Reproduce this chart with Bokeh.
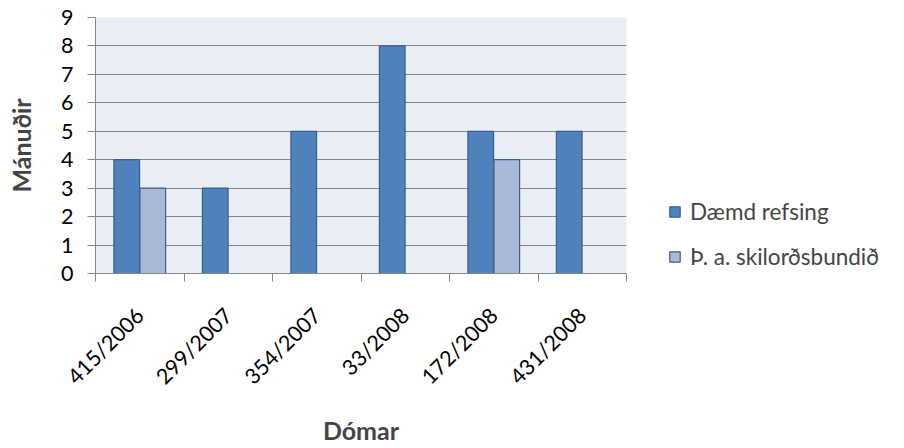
import math
import numpy as np
from bokeh.plotting import figure
from bokeh.models import (ColumnDataSource, FixedTicker, Legend, LegendItem,
                          Range1d)
from bokeh.embed import file_html
from bokeh.resources import INLINE

# Court cases and sentence lengths (months)
cases = ["415/2006", "299/2007", "354/2007", "33/2008", "172/2008", "431/2008"]
sentence = [4, 3, 5, 8, 5, 5]
suspended = [3, None, None, None, 4, None]

series_names = ["Dæmd refsing", "Þ. a. skilorðsbundið"]
fill_colors = ["#4F81BD", "#AAB9D8"]
line_colors = ["#3A5F8E", "#3A5F8E"]
y_ticks = list(range(0, 10))

FONT = "Lato"
idx = np.arange(len(cases), dtype=float)
centers = idx + 0.5
bounds = np.arange(len(cases) + 1, dtype=float)

p = figure(frame_width=531, frame_height=256, output_backend="svg", toolbar_location=None,
           x_range=Range1d(0, len(cases)), y_range=Range1d(0, 9),
           min_border_left=95, min_border_right=278, min_border_top=17,
           min_border_bottom=175)
p.background_fill_color = "#E9EDF4"
p.border_fill_color = "white"
p.outline_line_color = None

bar_w = 0.29
offsets = [-0.147, 0.147]
renderers = []
for vals, off, fc, lc in zip([sentence, suspended], offsets, fill_colors, line_colors):
    top = np.array([np.nan if v is None else v for v in vals], dtype=float)
    src = ColumnDataSource(dict(x=centers + off, top=top))
    r = p.vbar(x="x", top="top", bottom=0, width=bar_w, source=src,
               fill_color=fc, line_color=lc, line_width=1.2)
    renderers.append(r)

# x axis: labels at category centres, ticks on the category boundaries
xax = p.xaxis[0]
xax.ticker = FixedTicker(ticks=list(centers), minor_ticks=list(bounds))
xax.major_label_overrides = {float(c): name for c, name in zip(centers, cases)}
xax.major_label_orientation = math.pi / 4
xax.major_tick_line_color = None
xax.minor_tick_line_color = "#868686"
xax.minor_tick_out = 8
xax.minor_tick_in = 0
xax.axis_line_color = "#868686"
xax.major_label_text_font = FONT
xax.major_label_text_font_size = "21.5px"
xax.major_label_text_color = "black"
xax.major_label_standoff = 30
xax.axis_label = "Dómar"
xax.axis_label_text_font = FONT
xax.axis_label_text_font_style = "bold"
xax.axis_label_text_font_size = "25px"
xax.axis_label_standoff = 14

yax = p.yaxis[0]
yax.ticker = FixedTicker(ticks=y_ticks)
yax.minor_tick_line_color = None
yax.major_tick_line_color = "#868686"
yax.major_tick_out = 8
yax.major_tick_in = 0
yax.axis_line_color = "#868686"
yax.major_label_text_font = FONT
yax.major_label_text_font_size = "21.5px"
yax.major_label_text_color = "black"
yax.major_label_standoff = 14
yax.axis_label = "Mánuðir"
yax.axis_label_text_font = FONT
yax.axis_label_text_font_style = "bold"
yax.axis_label_text_font_size = "25px"
yax.axis_label_standoff = 22

p.xgrid.grid_line_color = None
p.ygrid.ticker = FixedTicker(ticks=y_ticks)
p.ygrid.grid_line_color = "#868686"
p.ygrid.grid_line_width = 1.2

legend = Legend(items=[LegendItem(label=n, renderers=[r]) for n, r in zip(series_names, renderers)],
                location=(42, 3), border_line_color=None, background_fill_alpha=0,
                label_text_font=FONT, label_text_font_size="22.5px",
                glyph_width=13, glyph_height=13, spacing=18, padding=0, margin=0,
                label_standoff=9)
p.add_layout(legend, "right")

open("out.html", "w").write(file_html(p, INLINE))
